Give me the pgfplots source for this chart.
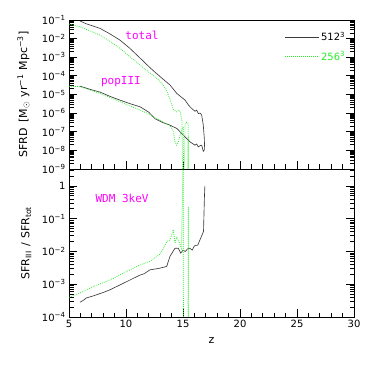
\documentclass[border=0pt]{standalone}
\usepackage{fontspec}
\setmainfont{DejaVu Sans}
\setmonofont{DejaVu Sans Mono}
\usepackage{pgfplots}
\pgfplotsset{compat=1.18}
\definecolor{lgreen}{RGB}{40,235,40}
\definecolor{mag}{RGB}{255,0,255}
\definecolor{dline}{RGB}{60,60,60}
\newcommand{\tl}[1]{10\textsuperscript{−#1}}
\tikzset{black line/.style={dline, line width=0.65pt},
  green line/.style={lgreen, line width=0.75pt, dash pattern=on 0.8pt off 1.2pt}}

\begin{document}
\begin{tikzpicture}
\useasboundingbox (0pt,0pt) rectangle (374pt,374pt);

% upper panel: star formation rate density
\begin{axis}[scale only axis, width=285pt, height=149pt, xmin=5, xmax=30,
  at={(69pt,205pt)}, anchor=south west,
  ymode=log, ymin=1e-9, ymax=1e-1,
  xtick={5,10,...,30}, minor xtick={6,...,29},
  tick align=inside, xtick pos=left, ytick pos=both,
  tickwidth=8pt, subtickwidth=4.5pt,
  axis line style={line width=0.9pt},
  tick style={black, line width=0.8pt},
  tick label style={font=\fontsize{10}{12}\selectfont},
  label style={font=\fontsize{11}{13}\selectfont},
  ytick={1e-9,1e-8,1e-7,1e-6,1e-5,1e-4,1e-3,1e-2,1e-1},
  minor ytick={2e-9,3e-9,4e-9,5e-9,6e-9,7e-9,8e-9,9e-9,
    2e-8,3e-8,4e-8,5e-8,6e-8,7e-8,8e-8,9e-8,
    2e-7,3e-7,4e-7,5e-7,6e-7,7e-7,8e-7,9e-7,
    2e-6,3e-6,4e-6,5e-6,6e-6,7e-6,8e-6,9e-6,
    2e-5,3e-5,4e-5,5e-5,6e-5,7e-5,8e-5,9e-5,
    2e-4,3e-4,4e-4,5e-4,6e-4,7e-4,8e-4,9e-4,
    2e-3,3e-3,4e-3,5e-3,6e-3,7e-3,8e-3,9e-3,
    2e-2,3e-2,4e-2,5e-2,6e-2,7e-2,8e-2,9e-2},
  yticklabels={\tl9,\tl8,\tl7,\tl6,\tl5,\tl4,\tl3,\tl2,\tl1},
  xticklabels={},
  ylabel={SFRD\hspace{0.5em}[M$_\odot$\hspace{0.4em}yr\textsuperscript{−1}\hspace{0.4em}Mpc\textsuperscript{−3}]},
  ylabel style={at={(axis description cs:-0.16,0.5)}, anchor=center},
  legend style={draw=none, fill=none, inner sep=0pt, row sep=5pt,
    at={(axis description cs:0.755,0.935)}, anchor=north west,
    font=\fontsize{10}{12}\selectfont},
  legend cell align=left,
  legend image code/.code={\draw[#1] (0pt,0pt) -- (34pt,0pt);}]
\addplot[black line] coordinates {(5.96,8.9e-2) (6.5,6.3e-2) (7.0,5.0e-2)
  (7.72,3.55e-2) (8.6,1.78e-2) (9.47,8.3e-3) (10.3,3.16e-3) (11.23,9.1e-4)
  (12.0,3.16e-4) (12.54,1.58e-4) (13.2,7.1e-5) (13.86,3.24e-5)
  (14.45,1.15e-5) (15.18,5.0e-6) (15.5,2.6e-6) (15.76,1.78e-6)
  (16.05,1.26e-6) (16.2,1.45e-6) (16.34,9.5e-7) (16.5,1.0e-6)
  (16.64,7.9e-7) (16.78,2.24e-7) (16.87,4.37e-8) (16.9,1.12e-8)};
\addlegendentry{512\textsuperscript{3}}
\addplot[green line] coordinates {(5.0,6.0e-2) (5.96,4.37e-2) (6.8,2.63e-2)
  (7.72,1.55e-2) (8.6,7.1e-3) (9.47,3.0e-3) (10.3,1.12e-3) (11.23,3.8e-4)
  (12.0,1.58e-4) (12.54,8.9e-5) (13.0,5.0e-5) (13.5,2.0e-5) (13.86,5.6e-6)
  (14.15,1.58e-6) (14.45,1.17e-6) (14.6,1.45e-6) (14.75,1.17e-6)
  (14.9,4.2e-7) (15.03,1e-12) (15.18,2.24e-7) (15.3,3.4e-7) (15.46,2.5e-7)
  (15.47,1e-12)};
\addlegendentry{\textcolor{lgreen}{256\textsuperscript{3}}}
\addplot[black line, forget plot] coordinates {(5.96,2.8e-5) (7.0,1.78e-5)
  (7.72,1.35e-5) (8.6,7.9e-6) (9.47,5.0e-6) (10.3,3.3e-6) (11.23,2.19e-6)
  (12.0,1.12e-6) (12.54,5.0e-7) (13.2,3.16e-7) (13.86,2.24e-7)
  (14.45,1.51e-7) (15.03,6.6e-8) (15.6,2.9e-8) (16.05,1.9e-8)
  (16.2,2.2e-8) (16.34,1.55e-8) (16.5,1.78e-8) (16.64,1.9e-8)
  (16.78,8.9e-9) (16.9,1.12e-8)};
\addplot[green line, forget plot] coordinates {(5.0,2.8e-5) (5.96,2.63e-5)
  (7.72,1.15e-5) (9.47,4.1e-6) (11.23,1.45e-6) (12.0,8.9e-7)
  (12.54,5.6e-7) (13.0,4.0e-7) (13.86,2.24e-7) (14.15,1.0e-7)
  (14.3,2.9e-8) (14.45,1.9e-8) (14.6,2.9e-8) (14.75,6.6e-8)
  (14.9,1.23e-7) (15.03,1.82e-7) (15.04,1e-12) (15.44,1e-12)
  (15.45,5.9e-8) (15.47,1e-12)};
\node[mag, font=\ttfamily\fontsize{11}{12}\selectfont] at (axis cs:11.4,1.55e-2) {total};
\node[mag, font=\ttfamily\fontsize{11}{12}\selectfont] at (axis cs:9.56,4.7e-5) {popIII};
\end{axis}

% lower panel: popIII fraction
\begin{axis}[scale only axis, width=285pt, height=148pt, xmin=5, xmax=30,
  at={(69pt,57pt)}, anchor=south west,
  ymode=log, ymin=1e-4, ymax=3.3,
  xtick={5,10,...,30}, minor xtick={6,...,29},
  tick align=inside, xtick pos=left, ytick pos=both,
  tickwidth=8pt, subtickwidth=4.5pt,
  axis line style={line width=0.9pt},
  tick style={black, line width=0.8pt},
  tick label style={font=\fontsize{10}{12}\selectfont},
  label style={font=\fontsize{11}{13}\selectfont},
  ytick={1e-4,1e-3,1e-2,1e-1,1},
  minor ytick={2e-4,3e-4,4e-4,5e-4,6e-4,7e-4,8e-4,9e-4,
    2e-3,3e-3,4e-3,5e-3,6e-3,7e-3,8e-3,9e-3,
    2e-2,3e-2,4e-2,5e-2,6e-2,7e-2,8e-2,9e-2,
    0.2,0.3,0.4,0.5,0.6,0.7,0.8,0.9,2,3},
  yticklabels={\tl4,\tl3,\tl2,\tl1,1},
  xticklabels={5,10,15,20,25,30},
  xlabel={z},
  xlabel style={at={(axis description cs:0.5,-0.162)}, anchor=center},
  ylabel={SFR\textsubscript{III}\hspace{0.4em}/\hspace{0.4em}SFR\textsubscript{tot}},
  ylabel style={at={(axis description cs:-0.15,0.5)}, anchor=center}]
\addplot[black line] coordinates {(5.96,2.82e-4) (6.3,3.3e-4) (6.5,3.8e-4)
  (7.0,4.27e-4) (8.0,5.6e-4) (8.6,6.8e-4) (9.47,9.5e-4) (10.06,1.2e-3)
  (10.7,1.55e-3) (11.23,1.9e-3) (11.6,2.1e-3) (12.1,2.75e-3) (12.5,2.9e-3)
  (12.98,3.1e-3) (13.57,3.5e-3) (13.86,7.1e-3) (14.3,1.26e-2)
  (14.59,1.26e-2) (14.8,8.9e-3) (15.0,1.1e-2) (15.2,1.0e-2) (15.4,1.2e-2)
  (15.6,1.26e-2) (15.8,1.1e-2) (16.0,1.48e-2) (16.3,1.58e-2) (16.6,2.8e-2)
  (16.8,4.1e-2) (16.88,0.47) (16.92,1.0)};
\addplot[green line] coordinates {(5.0,3.98e-4) (5.96,5.4e-4) (7.13,8.5e-4)
  (8.6,1.35e-3) (10.06,2.45e-3) (11.23,3.9e-3) (12.1,5.0e-3)
  (12.98,8.3e-3) (13.3,1.26e-2) (13.57,2.0e-2) (13.86,2.24e-2)
  (14.15,4.6e-2) (14.3,1.78e-2) (14.45,2.8e-2) (14.59,2.24e-2)
  (14.85,1.26e-2) (15.02,10) (15.04,1e-6) (15.44,1e-6) (15.46,0.234)
  (15.48,1e-6)};
\node[mag, font=\ttfamily\fontsize{11}{12}\selectfont] at (axis cs:9.65,0.43) {WDM 3keV};
\end{axis}
\end{tikzpicture}
\end{document}
